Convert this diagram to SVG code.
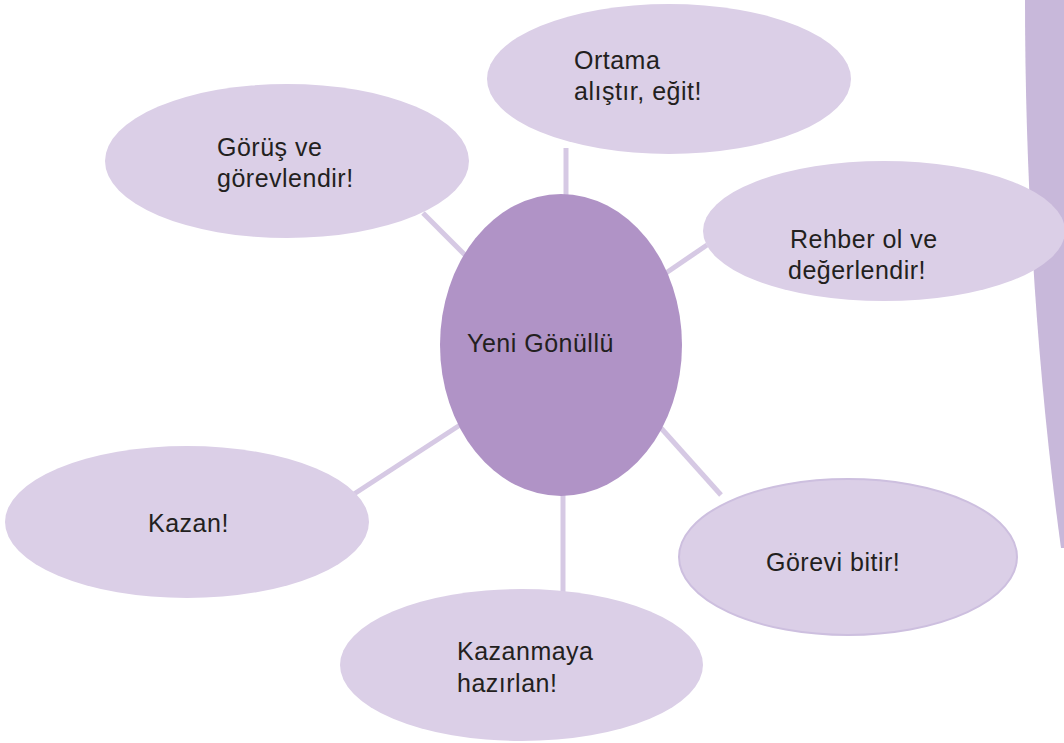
<svg xmlns="http://www.w3.org/2000/svg" width="1064" height="743" viewBox="0 0 1064 743">
  <style>
    .bubble { fill: #dbcfe7; }
    .core { fill: #b093c6; }
    .link { stroke: #d6c9e4; stroke-width: 5; fill: none; }
    .label { font-family: "Liberation Sans", Arial, sans-serif; font-size: 25px; letter-spacing: 0.5px; fill: #231f20; }
  </style>
  <rect width="1064" height="743" fill="#ffffff"/>

  <!-- side band along the right edge -->
  <path id="side-band" d="M1025,0 C1025,190 1038,380 1061,548 L1064,548 L1064,0 Z" fill="#c8b8da"/>

  <g id="connectors">
    <line class="link" x1="423" y1="213" x2="466" y2="256"/>
    <line class="link" x1="566" y1="148" x2="566" y2="198"/>
    <line class="link" x1="666" y1="273" x2="707" y2="245"/>
    <line class="link" x1="354" y1="494" x2="460" y2="425"/>
    <line class="link" x1="563" y1="493" x2="563" y2="594"/>
    <line class="link" x1="661" y1="428" x2="721" y2="495"/>
  </g>

  <g id="node-gorus">
    <ellipse class="bubble" cx="287" cy="161" rx="182" ry="77"/>
    <text class="label" x="217" y="156">Görüş ve</text>
    <text class="label" x="217" y="187">görevlendir!</text>
  </g>

  <g id="node-ortama">
    <ellipse class="bubble" cx="669" cy="79" rx="182" ry="75"/>
    <text class="label" x="574" y="69">Ortama</text>
    <text class="label" x="574" y="100">alıştır, eğit!</text>
  </g>

  <g id="node-rehber">
    <ellipse class="bubble" cx="884" cy="231" rx="181" ry="70"/>
    <text class="label" x="790" y="248">Rehber ol ve</text>
    <text class="label" x="788" y="279">değerlendir!</text>
  </g>

  <g id="node-kazan">
    <ellipse class="bubble" cx="187" cy="522" rx="182" ry="76"/>
    <text class="label" x="148" y="532">Kazan!</text>
  </g>

  <g id="node-hazirlan">
    <ellipse class="bubble" cx="521.5" cy="665" rx="181.5" ry="76"/>
    <text class="label" x="457" y="660">Kazanmaya</text>
    <text class="label" x="457" y="692">hazırlan!</text>
  </g>

  <g id="node-bitir">
    <ellipse class="bubble" cx="848" cy="557" rx="169" ry="78" stroke="#cdbfdf" stroke-width="2"/>
    <text class="label" x="766" y="571">Görevi bitir!</text>
  </g>

  <g id="node-center">
    <ellipse class="core" cx="561" cy="345" rx="121" ry="151"/>
    <text class="label" x="467" y="352">Yeni Gönüllü</text>
  </g>
</svg>
